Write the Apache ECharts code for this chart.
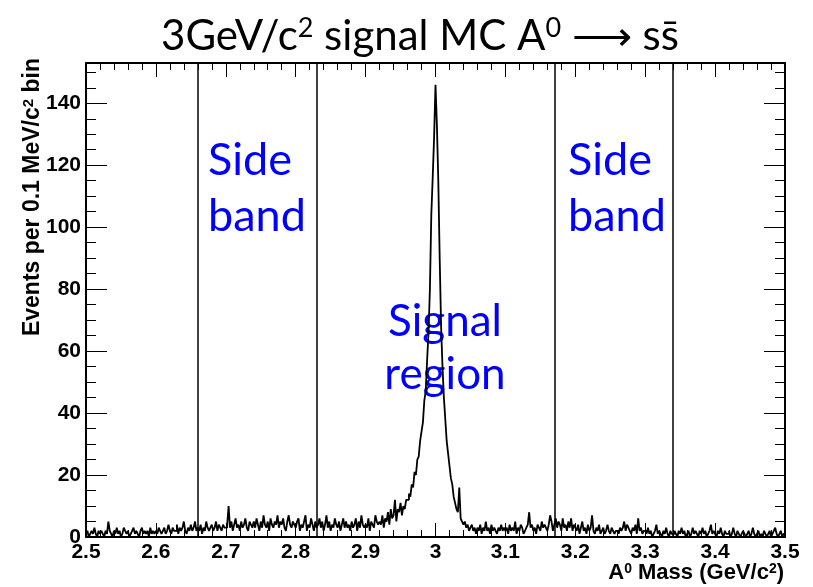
<!DOCTYPE html>
<html>
<head>
<meta charset="utf-8">
<script src="https://cdn.jsdelivr.net/npm/echarts@6/dist/echarts.min.js"></script>
<style>
  html, body { margin: 0; padding: 0; background: #fff; }
  #main { width: 813px; height: 587px; }
</style>
</head>
<body>
<div id="main"></div>
<script>
  // histogram: 2 MeV bins from 2.5 to 3.5 GeV, one array per 0.1 GeV
  var xMin = 2.5;
  var binWidth = 0.002;
  var counts_250 = [1,2,0,1,2,1,3,1,0,2, 1,2,1,0,2,1,5,2,1,0, 2,1,3,1,2,0,1,3,2,1, 2,0,1,2,3,1,2,1,0,2, 3,1,2,1,2,0,3,1,2,1];
  var counts_260 = [2,1,3,2,1,2,3,1,2,4, 2,1,3,2,2,4,1,3,2,3, 5,2,1,3,2,4,2,3,5,2, 3,2,4,1,3,2,5,3,2,3, 4,2,3,5,2,4,3,2,4,3];
  var counts_270 = [3,4,10,3,5,2,4,6,3,4, 2,5,3,4,6,3,2,5,4,3, 5,3,6,4,2,5,3,7,4,3, 5,2,6,4,3,5,4,7,3,5, 4,6,3,2,5,7,4,3,5,4];
  var counts_280 = [3,5,6,2,4,3,5,7,2,4, 3,6,4,2,5,3,4,6,3,5, 2,4,7,3,5,2,4,3,6,4, 3,5,2,4,6,3,5,3,4,2, 5,3,4,6,2,5,3,7,4,3];
  var counts_290 = [4,3,6,2,5,4,3,7,5,4, 5,4,7,3,6,5,8,4,9,6, 7,12,5,9,8,11,7,10,9,12, 12,14,13,17,16,21,20,25,26,31, 34,37,44,47,57,66,80,104,116,129];
  var counts_300 = [146,133,115,90,68,55,45,38,31,27, 23,19,17,13,11,9,8,16,6,5, 4,5,3,4,2,3,4,2,3,1, 3,2,4,1,3,2,5,2,3,1, 4,2,3,2,1,3,2,4,2,3];
  var counts_310 = [2,3,1,4,2,3,2,5,1,3, 2,4,3,1,2,3,4,8,3,4, 2,3,1,4,3,2,5,3,4,3, 2,4,7,5,2,4,6,3,5,4, 2,6,3,4,2,5,3,6,2,4];
  var counts_320 = [3,2,4,1,3,5,2,3,1,4, 2,3,7,2,1,3,2,4,1,2, 3,1,2,4,2,1,3,2,1,2, 2,1,3,2,3,5,2,4,3,2, 1,3,2,4,1,6,2,3,1,2];
  var counts_330 = [2,1,3,1,2,0,1,2,4,1, 2,1,0,2,1,3,1,0,2,1, 1,2,1,0,2,1,3,1,2,0, 1,2,0,1,3,1,2,1,0,2, 1,3,1,2,0,1,2,4,1,2];
  var counts_340 = [1,0,2,1,3,1,0,2,1,1, 2,0,1,3,1,0,2,1,0,1, 2,1,0,1,2,0,1,3,1,0, 1,2,0,1,0,2,1,0,1,2, 0,1,2,3,1,0,1,2,0,1];

  // region boundaries (GeV)
  var bandEdges = [2.66, 2.83, 3.17, 3.34];

  var counts = [].concat(counts_250, counts_260, counts_270, counts_280, counts_290,
    counts_300, counts_310, counts_320, counts_330, counts_340);
  var histData = counts.map(function (c, i) {
    return [+(xMin + i * binWidth).toFixed(4), c];
  });
  histData.push([3.5, counts[counts.length - 1]]);

  var labelFont = { fontFamily: 'Liberation Sans', fontWeight: 'bold', fontSize: 21, color: '#000' };
  var blue = '#0000ff';
  var blueFont = 'Lato';

  var myChart = echarts.init(document.getElementById('main'));

  function xAxisCfg(pos, showLabel) {
    return {
      type: 'value', position: pos, min: 2.5, max: 3.5, interval: 0.1,
      axisLine: { onZero: false, lineStyle: { color: '#000', width: 2 } },
      axisTick: { inside: true, length: 14, lineStyle: { color: '#000', width: 1 } },
      minorTick: { show: true, splitNumber: 5, length: 7, lineStyle: { color: '#000', width: 1 } },
      splitLine: { show: false },
      axisLabel: Object.assign({ show: showLabel, margin: 5 }, labelFont)
    };
  }
  function yAxisCfg(pos, showLabel) {
    return {
      type: 'value', position: pos, min: 0, max: 153, interval: 20,
      axisLine: { onZero: false, lineStyle: { color: '#000', width: 2 } },
      axisTick: { inside: true, length: 21, lineStyle: { color: '#000', width: 1 } },
      minorTick: { show: true, splitNumber: 4, length: 10, lineStyle: { color: '#000', width: 1 } },
      splitLine: { show: false },
      axisLabel: Object.assign({ show: showLabel, margin: 5, showMaxLabel: false }, labelFont)
    };
  }

  myChart.setOption({
    animation: false,
    backgroundColor: '#fff',
    grid: { left: 86, right: 28, top: 63, bottom: 50 },
    xAxis: [xAxisCfg('bottom', true), xAxisCfg('top', false)],
    yAxis: [yAxisCfg('left', true), yAxisCfg('right', false)],
    graphic: [
      {
        type: 'text', x: 420, y: 36, z: 10,
        style: {
          text: '{m|3GeV/c}{s|2}{m| signal MC A}{s|0}{m| \u27F6 s}{m|s\u0304}',
          align: 'center', verticalAlign: 'middle',
          rich: {
            m: { fontFamily: blueFont, fontSize: 42, fill: '#000', verticalAlign: 'bottom' },
            s: { fontFamily: blueFont, fontSize: 27, fill: '#000', verticalAlign: 'top' }
          }
        }
      },
      {
        type: 'text', x: 33, y: 58, rotation: Math.PI / 2, z: 10,
        style: {
          text: '{m|Events per 0.1 MeV/c}{s|2}{m| bin}',
          align: 'right', verticalAlign: 'middle',
          rich: {
            m: { fontFamily: 'Liberation Sans', fontWeight: 'bold', fontSize: 23, fill: '#000', verticalAlign: 'bottom' },
            s: { fontFamily: 'Liberation Sans', fontWeight: 'bold', fontSize: 15, fill: '#000', verticalAlign: 'top' }
          }
        }
      },
      {
        type: 'text', x: 784, y: 573, z: 10,
        style: {
          text: '{m|A}{s|0}{m| Mass (GeV/c}{s|2}{m|)}',
          align: 'right', verticalAlign: 'middle',
          rich: {
            m: { fontFamily: 'Liberation Sans', fontWeight: 'bold', fontSize: 22, fill: '#000', verticalAlign: 'bottom' },
            s: { fontFamily: 'Liberation Sans', fontWeight: 'bold', fontSize: 14, fill: '#000', verticalAlign: 'top' }
          }
        }
      },
      { type: 'text', x: 208, y: 160, z: 0, style: { text: 'Side', fontFamily: blueFont, fontSize: 45, fill: blue, verticalAlign: 'middle' } },
      { type: 'text', x: 208, y: 216, z: 0, style: { text: 'band', fontFamily: blueFont, fontSize: 45, fill: blue, verticalAlign: 'middle' } },
      { type: 'text', x: 568, y: 160, z: 0, style: { text: 'Side', fontFamily: blueFont, fontSize: 45, fill: blue, verticalAlign: 'middle' } },
      { type: 'text', x: 568, y: 216, z: 0, style: { text: 'band', fontFamily: blueFont, fontSize: 45, fill: blue, verticalAlign: 'middle' } },
      { type: 'text', x: 445, y: 322, z: 0, style: { text: 'Signal', fontFamily: blueFont, fontSize: 44, fill: blue, align: 'center', verticalAlign: 'middle' } },
      { type: 'text', x: 445, y: 375, z: 0, style: { text: 'region', fontFamily: blueFont, fontSize: 44, fill: blue, align: 'center', verticalAlign: 'middle' } }
    ],
    series: [{
      name: 'signal MC',
      type: 'line',
      step: 'end',
      showSymbol: false,
      data: histData,
      lineStyle: { color: '#000', width: 1.8 },
      z: 5,
      markLine: {
        silent: true,
        symbol: 'none',
        label: { show: false },
        lineStyle: { color: '#000', width: 1.5, type: 'solid' },
        data: bandEdges.map(function (v) { return { xAxis: v }; })
      }
    }]
  });
</script>
</body>
</html>
